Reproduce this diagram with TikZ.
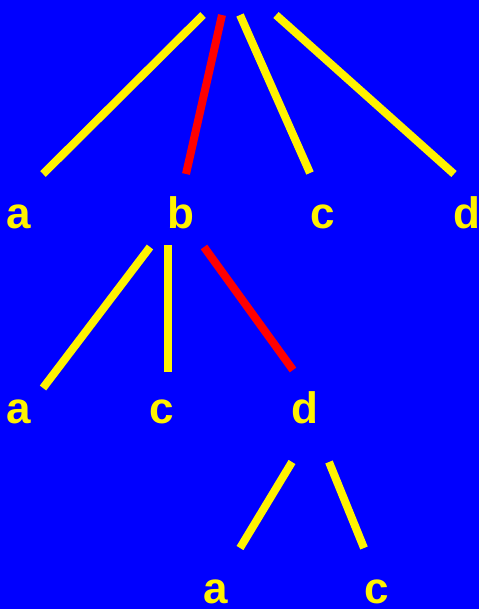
\documentclass[tikz,border=0pt]{standalone}
\usepackage{fontspec}
\setmainfont{Liberation Sans}
\usetikzlibrary{positioning}

\begin{document}
\begin{tikzpicture}[
  x=1pt, y=-1pt,
  every node/.style={font=\fontsize{44}{44}\selectfont\bfseries, text=yellow, inner sep=0pt, anchor=base},
  branch/.style={draw=yellow, line width=8pt},
  chosen/.style={draw=red, line width=8pt}
]
  % sfondo
  \fill[blue] (0,0) rectangle (479,609);

  % --- livello 1 ---
  \node (a1) at (19,229) {a};
  \node (b1) at (181,229) {b};
  \node (c1) at (323,229) {c};
  \node (d1) at (467,229) {d};
  \coordinate (ra) at (203,15);  \coordinate (ea) at (43,174);
  \coordinate (rb) at (222,15);  \coordinate (eb) at (186,174);
  \coordinate (rc) at (240,15);  \coordinate (ec) at (310,173);
  \coordinate (rd) at (276,15);  \coordinate (ed) at (454,174);
  \draw[branch] (ra) -- (ea);
  \draw[chosen] (rb) -- (eb);
  \draw[branch] (rc) -- (ec);
  \draw[branch] (rd) -- (ed);

  % --- livello 2 (sotto b) ---
  \node (a2) at (19,423) {a};
  \node (c2) at (162,423) {c};
  \node (d2) at (305,423) {d};
  \coordinate (ba) at (150,247); \coordinate (fa) at (43,388);
  \coordinate (bc) at (168,245); \coordinate (fc) at (168,372);
  \coordinate (bd) at (204,247); \coordinate (fd) at (293,370);
  \draw[branch] (ba) -- (fa);
  \draw[branch] (bc) -- (fc);
  \draw[chosen] (bd) -- (fd);

  % --- livello 3 (sotto d) ---
  \node (a3) at (216,603) {a};
  \node (c3) at (377,603) {c};
  \coordinate (da) at (292,462); \coordinate (ga) at (240,548);
  \coordinate (dc) at (329,462); \coordinate (gc) at (364,548);
  \draw[branch] (da) -- (ga);
  \draw[branch] (dc) -- (gc);
\end{tikzpicture}
\end{document}
